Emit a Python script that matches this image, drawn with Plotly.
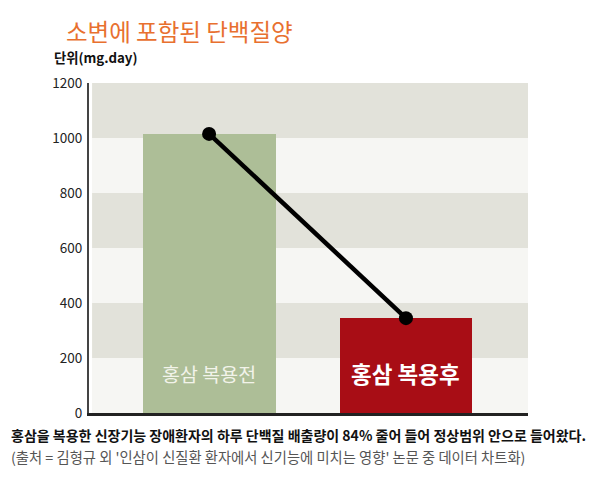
import plotly.graph_objects as go

categories = ["홍삼 복용전", "홍삼 복용후"]
protein_values = [1015, 345]
bar_colors = ["#adbe97", "#a80d15"]
y_ticks = [0, 200, 400, 600, 800, 1000, 1200]
band_colors = ["#f6f6f3", "#e2e2da"]

title_text = "소변에 포함된 단백질양"
unit_text = "단위(mg.day)"
note_text = "홍삼을 복용한 신장기능 장애환자의 하루 단백질 배출량이 84% 줄어 들어 정상범위 안으로 들어왔다."
source_text = "(출처 = 김형규 외 '인삼이 신질환 환자에서 신기능에 미치는 영향' 논문 중 데이터 차트화)"

FONT = "Noto Sans CJK KR"

fig = go.Figure()

fig.add_trace(go.Bar(
    x=categories, y=protein_values,
    marker=dict(color=bar_colors, line=dict(width=0)),
    width=0.675, hoverinfo="skip", showlegend=False,
))
fig.add_trace(go.Scatter(
    x=categories, y=protein_values, mode="lines+markers",
    line=dict(color="#000000", width=4.5),
    marker=dict(color="#000000", size=14),
    hoverinfo="skip", showlegend=False,
))

shapes = []
for i in range(len(y_ticks) - 1):
    shapes.append(dict(
        type="rect", xref="paper", yref="y", x0=0.007, x1=1,
        y0=y_ticks[i], y1=y_ticks[i + 1],
        fillcolor=band_colors[i % 2], line=dict(width=0), layer="below",
    ))

annotations = [
    dict(text=title_text, xref="paper", yref="paper", x=-0.057, y=1.158,
         xanchor="left", yanchor="middle", showarrow=False,
         font=dict(family=FONT, size=23.5, color="#e8702f")),
    dict(text="<b>" + unit_text + "</b>", xref="paper", yref="paper", x=-0.084, y=1.076,
         xanchor="left", yanchor="middle", showarrow=False,
         font=dict(family=FONT, size=13.3, color="#111111")),
    dict(text="<b>" + note_text + "</b>", xref="paper", yref="paper", x=-0.182, y=-0.068,
         xanchor="left", yanchor="middle", showarrow=False,
         font=dict(family=FONT, size=14.0, color="#111111")),
    dict(text=source_text, xref="paper", yref="paper", x=-0.182, y=-0.132,
         xanchor="left", yanchor="middle", showarrow=False,
         font=dict(family=FONT, size=14.3, color="#555555")),
    dict(text=categories[0], x=categories[0], y=0, yshift=40, xref="x", yref="y",
         showarrow=False, yanchor="middle",
         font=dict(family=FONT, size=19.5, color="#f2f3ea")),
    dict(text="<b>" + categories[1] + "</b>", x=categories[1], y=0, yshift=40, xref="x", yref="y",
         showarrow=False, yanchor="middle",
         font=dict(family=FONT, size=22.5, color="#ffffff")),
]

fig.update_layout(
    width=592, height=491,
    margin=dict(l=81, r=72, t=75, b=86),
    paper_bgcolor="#ffffff", plot_bgcolor="#ffffff",
    shapes=shapes, annotations=annotations,
    bargap=0,
    xaxis=dict(
        type="category", range=[-0.61, 1.62], showticklabels=False,
        showgrid=False, zeroline=False, showline=True,
        linecolor="#222222", linewidth=2.5, ticks="", fixedrange=True,
    ),
    yaxis=dict(
        range=[0, 1200], tickvals=y_ticks, showgrid=False, zeroline=False,
        showline=True, linecolor="#444444", linewidth=2, ticks="",
        tickfont=dict(family=FONT, size=13.5, color="#222222"),
        ticklabelstandoff=2, fixedrange=True,
    ),
    font=dict(family=FONT),
)

fig.write_html("out.html", config={"displayModeBar": False})
